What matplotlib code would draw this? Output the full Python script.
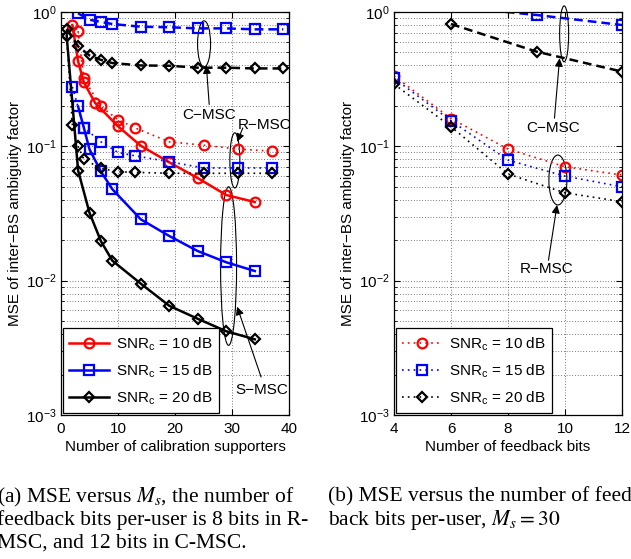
import numpy as np
import matplotlib.pyplot as plt
from matplotlib.patches import Ellipse

plt.rcParams['font.family'] = ['Liberation Sans', 'DejaVu Sans']
plt.rcParams['font.size'] = 11

# ---- data: left panel, MSE vs number of calibration supporters ----
s_red_x = [2, 3, 4, 6, 10, 14, 19, 24, 29, 34]
s_red_y = [0.80, 0.43, 0.30, 0.21, 0.141, 0.101, 0.076, 0.058, 0.0434, 0.0385]
s_blue_x = [3, 4, 5, 7, 9, 14, 19, 24, 29, 34]
s_blue_y = [0.198, 0.138, 0.095, 0.065, 0.048, 0.0286, 0.0215, 0.0166, 0.0137, 0.0118]
s_black_x = [1, 3, 5, 7, 9, 14, 19, 24, 29, 34]
s_black_y = [0.66, 0.066, 0.032, 0.0197, 0.0141, 0.0095, 0.0065, 0.0052, 0.0042, 0.00366]

r_red_x = [3, 4, 7, 10, 13, 19, 25, 31, 37]
r_red_y = [0.72, 0.32, 0.198, 0.158, 0.137, 0.108, 0.102, 0.0955, 0.092]
r_blue_x = [2, 4, 7, 10, 13, 19, 25, 31, 37]
r_blue_y = [0.277, 0.138, 0.108, 0.090, 0.085, 0.0768, 0.069, 0.069, 0.069]
r_black_x = [1, 2, 3, 4, 7, 10, 13, 19, 25, 31, 37]
r_black_y = [0.66, 0.144, 0.10, 0.080, 0.0686, 0.0647, 0.064, 0.063, 0.063, 0.063, 0.063]

c_blue_x = [3, 5, 7, 9, 14, 19, 24, 29, 34, 39]
c_blue_y = [0.977, 0.876, 0.843, 0.814, 0.777, 0.77, 0.755, 0.755, 0.743, 0.743]
c_black_x = [1, 3, 5, 7, 9, 14, 19, 24, 29, 34, 39]
c_black_y = [0.75, 0.555, 0.475, 0.44, 0.417, 0.40, 0.398, 0.385, 0.385, 0.38, 0.38]

# ---- data: right panel, MSE vs number of feedback bits ----
bits = [4, 6, 8, 10, 12]
rb_red = [0.334, 0.161, 0.0955, 0.0705, 0.0611]
rb_blue = [0.321, 0.155, 0.079, 0.060, 0.050]
rb_black = [0.291, 0.140, 0.0622, 0.0451, 0.0387]
cb_x = [6, 9, 12]
cb_blue = [1.1, 0.95, 0.80]
cb_black = [0.814, 0.507, 0.36]

snr_labels = ['SNR$_\\mathregular{c}$ = 10 dB', 'SNR$_\\mathregular{c}$ = 15 dB',
              'SNR$_\\mathregular{c}$ = 20 dB']

RED, BLUE, BLK = '#ff0000', '#0000ff', '#000000'
SOLID = '-'
DASH = (0, (3.5, 2))
DOT = (0, (1, 2.5))
mk = {'o': 7, 's': 6.5, 'D': 5.5}


def curve(ax, x, y, color, marker, ls, label=None):
    lw = 1.2 if ls == DOT else 1.8
    return ax.plot(x, y, color=color, ls=ls, lw=lw, marker=marker, ms=mk[marker],
                   mfc='none', mec=color, mew=1.6, label=label)[0]


def setup(ax, xlim, xticks, xlabel):
    ax.set_yscale('log')
    ax.set_xlim(*xlim)
    ax.set_ylim(1e-3, 1)
    ax.set_xticks(xticks)
    ax.tick_params(which='both', direction='in', top=True, right=True)
    ax.tick_params(which='major', length=4, labelsize=11)
    ax.tick_params(axis='x', which='major', pad=5)
    ax.tick_params(axis='y', which='major', pad=3)
    ax.tick_params(which='minor', length=2)
    ax.grid(True, which='major', ls=(0, (1, 3)), color='k', lw=0.5)
    ax.grid(True, which='minor', axis='y', ls=(0, (1, 3)), color='k', lw=0.5)
    ax.set_xlabel(xlabel, fontsize=11, labelpad=3)
    ax.set_ylabel('MSE of inter\u2212BS ambiguity factor', fontsize=11, labelpad=3)
    for s in ax.spines.values():
        s.set_linewidth(0.9)


def ring(ax, x, y0, y1, w_px):
    p0 = ax.transAxes.inverted().transform(ax.transData.transform((x, y0)))
    p1 = ax.transAxes.inverted().transform(ax.transData.transform((x, y1)))
    e = Ellipse((p0[0], (p0[1] + p1[1]) / 2), w_px / 228.0, abs(p1[1] - p0[1]),
                transform=ax.transAxes, fill=False, lw=0.8, ec='k', clip_on=False)
    ax.add_patch(e)


def pointer(ax, text, tip, tail, pos):
    ax.annotate('', xy=tip, xytext=tail,
                arrowprops=dict(arrowstyle='-|>', color='k', lw=0.8,
                                mutation_scale=12, shrinkA=0, shrinkB=0),
                annotation_clip=False)
    ax.text(pos[0], pos[1], text, ha='center', va='center', fontsize=11)


fig = plt.figure(figsize=(6.31, 5.59), dpi=100)
ax1 = fig.add_axes([61 / 631, 144 / 559, 228 / 631, 403 / 559])
ax2 = fig.add_axes([394 / 631, 144 / 559, 228 / 631, 403 / 559])

# left panel
setup(ax1, (0, 40), [0, 10, 20, 30, 40], 'Number of calibration supporters')
h1 = curve(ax1, s_red_x, s_red_y, RED, 'o', SOLID, snr_labels[0])
h2 = curve(ax1, s_blue_x, s_blue_y, BLUE, 's', SOLID, snr_labels[1])
h3 = curve(ax1, s_black_x, s_black_y, BLK, 'D', SOLID, snr_labels[2])
curve(ax1, r_red_x, r_red_y, RED, 'o', DOT)
curve(ax1, r_blue_x, r_blue_y, BLUE, 's', DOT)
curve(ax1, r_black_x, r_black_y, BLK, 'D', DOT)
curve(ax1, c_blue_x, c_blue_y, BLUE, 's', DASH)
curve(ax1, c_black_x, c_black_y, BLK, 'D', DASH)

ring(ax1, 25.1, 0.39, 0.86, 13)
pointer(ax1, 'C\u2212MSC', (25.5, 0.40), (26.0, 0.205), (26.0, 0.172))
ring(ax1, 30.5, 0.049, 0.126, 10)
pointer(ax1, 'R\u2212MSC', (30.9, 0.108), (31.9, 0.137), (35.8, 0.144))
ring(ax1, 29.4, 0.0033, 0.050, 16)
pointer(ax1, 'S\u2212MSC', (30.9, 0.0064), (35.1, 0.00192), (35.3, 0.00153))

leg_kw = dict(loc='lower left', borderaxespad=0.1, fancybox=False, framealpha=1,
              edgecolor='k', handlelength=2.6, labelspacing=0.6, fontsize=11,
              borderpad=0.45, handletextpad=0.45)
lg = ax1.legend(handles=[h1, h2, h3], **leg_kw)
lg.get_frame().set_linewidth(0.9)

# right panel
setup(ax2, (4, 12), [4, 6, 8, 10, 12], 'Number of feedback bits')
g1 = curve(ax2, bits, rb_red, RED, 'o', DOT, snr_labels[0])
g2 = curve(ax2, bits, rb_blue, BLUE, 's', DOT, snr_labels[1])
g3 = curve(ax2, bits, rb_black, BLK, 'D', DOT, snr_labels[2])
curve(ax2, cb_x, cb_blue, BLUE, 's', DASH)
curve(ax2, cb_x, cb_black, BLK, 'D', DASH)

ring(ax2, 9.97, 0.426, 1.11, 9)
pointer(ax2, 'C\u2212MSC', (9.81, 0.452), (9.63, 0.162), (9.57, 0.138))
ring(ax2, 9.75, 0.0366, 0.0861, 18)
pointer(ax2, 'R\u2212MSC', (9.72, 0.0366), (9.42, 0.0142), (9.37, 0.0123))

lg2 = ax2.legend(handles=[g1, g2, g3], **leg_kw)
lg2.get_frame().set_linewidth(0.9)

# captions
cap = dict(fontfamily='Liberation Serif', math_fontfamily='stix', fontsize=15.5, va='center')
fig.text(-0.005, 1 - 497 / 559, '(a) MSE versus $M_s$, the number of', **cap)
fig.text(-0.005, 1 - 520 / 559, 'feedback bits per-user is 8 bits in R-', **cap)
fig.text(-0.005, 1 - 543 / 559, 'MSC, and 12 bits in C-MSC.', **cap)
fig.text(328 / 631, 1 - 497 / 559, '(b) MSE versus the number of feed-', **cap)
fig.text(328 / 631, 1 - 520 / 559, 'back bits per-user, $M_s = 30$', **cap)

fig.savefig('out.png', dpi=100)
